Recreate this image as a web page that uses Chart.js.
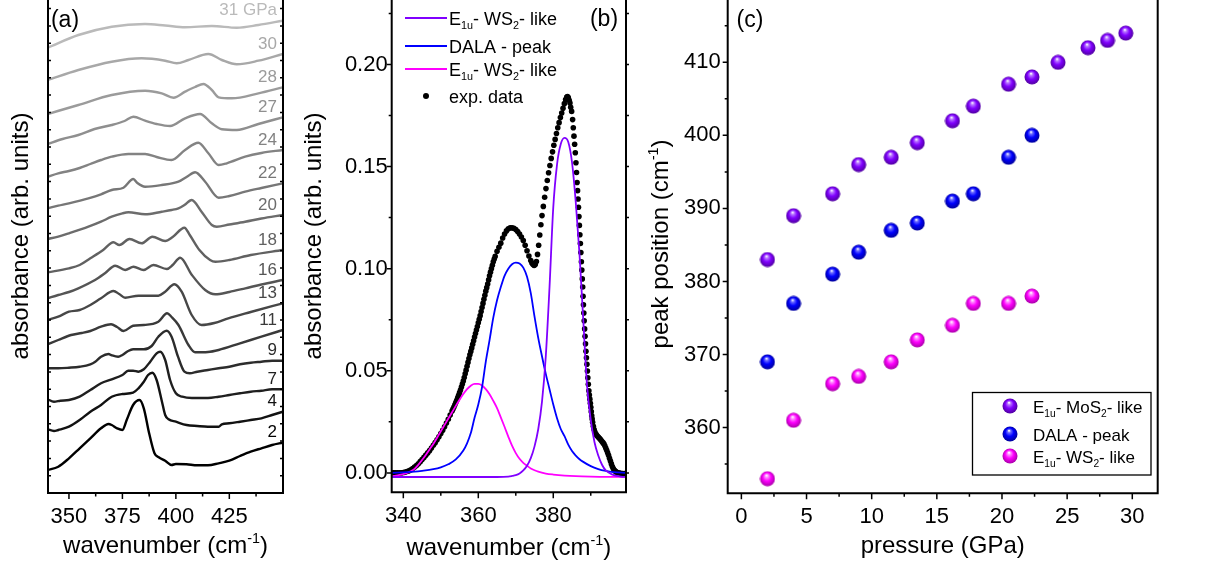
<!DOCTYPE html>
<html><head><meta charset="utf-8">
<script src="https://cdn.jsdelivr.net/npm/chart.js@4.4.1/dist/chart.umd.min.js"></script>
<style>
html,body{margin:0;padding:0;background:#fff;}
#wrap{position:relative;width:1210px;height:567px;overflow:hidden;background:#fff;}
#wrap canvas{position:absolute;left:0;top:0;}
</style></head><body>
<div id="wrap">
<canvas id="ca" width="1210" height="567"></canvas>
<canvas id="cb" width="1210" height="567"></canvas>
<canvas id="cc" width="1210" height="567"></canvas>
</div>
<script>
// ================= DATA =================
// Panel (a): stacked IR spectra, [wavenumber, absorbance (arb., offset)]
const labelsA = ['2','4','7','9','11','13','16','18','20','22','24','27','28','30','31 GPa'];
const spec2 = [[340,0.23],[345,0.263],[350,0.347],[355,0.447],[360,0.547],[365,0.647],[368.5,0.69],[370,0.68],[372.5,0.647],[375,0.63],[377,0.73],[380,0.88],[383,0.93],[385,0.847],[387.5,0.597],[390,0.397],[392,0.357],[395,0.323],[398,0.28],[400,0.29],[405,0.287],[410,0.277],[415,0.277],[420,0.297],[425,0.323],[430,0.37],[435,0.413],[440,0.447],[445,0.48],[450,0.503]];
const spec4 = [[340,0.637],[343,0.62],[345,0.63],[350,0.663],[355,0.73],[360,0.813],[365,0.88],[370,0.963],[375,0.99],[380,1.003],[382.5,1.047],[385,1.113],[387,1.18],[389,1.203],[391,1.13],[393.5,0.913],[395,0.78],[396.6,0.737],[400,0.713],[405,0.68],[410,0.67],[415,0.663],[420,0.663],[421.5,0.687],[425,0.697],[430,0.713],[435,0.73],[440,0.747],[445,0.78],[450,0.813]];
const spec7 = [[340,0.937],[343,0.913],[346,0.923],[350,0.93],[355,0.963],[360,1.03],[365,1.097],[370,1.137],[375,1.18],[377.7,1.223],[380,1.223],[382.5,1.213],[385,1.237],[388,1.313],[391,1.397],[392.7,1.413],[395,1.33],[397.3,1.13],[400,0.997],[403,0.963],[407.5,0.95],[415,0.95],[420,0.963],[425,0.98],[430,0.997],[435,1.013],[440,1.023],[445,1.037],[450,1.037]];
const spec9 = [[340,1.247],[345,1.247],[350,1.253],[355,1.263],[360,1.287],[362.3,1.313],[365,1.363],[368.5,1.39],[370,1.377],[373,1.363],[375,1.38],[377.7,1.42],[380,1.437],[385,1.437],[388.7,1.47],[391.8,1.563],[395.7,1.623],[398,1.563],[401,1.363],[404,1.213],[406.5,1.197],[410,1.213],[415,1.23],[420,1.247],[425,1.263],[430,1.287],[435,1.303],[440,1.313],[445,1.323],[450,1.323]];
const spec11 = [[340,1.487],[345,1.53],[351,1.58],[356,1.6],[360,1.62],[365,1.663],[369.7,1.687],[372.5,1.66],[375.5,1.62],[380,1.673],[385,1.68],[391.8,1.713],[395.9,1.797],[398,1.76],[401.2,1.68],[405.9,1.48],[409,1.407],[415,1.41],[420,1.43],[430,1.497],[440,1.563],[450,1.63]];
const spec13 = [[340,1.73],[345,1.763],[350,1.813],[355,1.83],[360,1.88],[365,1.947],[370.8,2.02],[373.5,1.99],[376.3,1.953],[382.5,1.973],[391.8,1.973],[395,2.013],[399.3,2.087],[402.7,2.013],[407.4,1.78],[412,1.68],[418,1.7],[424.5,1.747],[435,1.81],[450,1.897]];
const spec16 = [[340,1.947],[345,1.98],[350,2.01],[354.4,2.047],[362.2,2.13],[367,2.2],[371.6,2.273],[376.3,2.23],[380.2,2.263],[384.9,2.23],[389.5,2.28],[395.8,2.24],[398.5,2.28],[402,2.353],[407.5,2.18],[413.7,2.03],[418.4,1.987],[425,2.01],[432.5,2.047],[440,2.085],[450,2.13]];
const spec18 = [[340,2.207],[350,2.247],[355,2.28],[360,2.347],[366,2.43],[370.8,2.507],[373.6,2.48],[378.3,2.54],[384,2.497],[389,2.563],[395,2.52],[398.5,2.56],[404,2.653],[406.5,2.58],[411,2.43],[416,2.33],[418.5,2.313],[425,2.33],[435,2.38],[450,2.43]];
const spec20 = [[340,2.54],[345,2.563],[350,2.597],[359.1,2.663],[365,2.713],[370,2.763],[375,2.797],[377.8,2.807],[385.6,2.787],[393.4,2.813],[398,2.83],[401.2,2.847],[404,2.88],[407.4,2.93],[412,2.813],[416.8,2.68],[419.1,2.663],[425,2.685],[432.4,2.713],[440,2.745],[450,2.78]];
const spec22 = [[340,2.847],[345,2.873],[350,2.897],[359.1,2.947],[365,2.987],[370,3.03],[375.5,3.053],[380.1,3.14],[382,3.1],[385.6,3.063],[393.4,3.08],[401.2,3.113],[405,3.16],[409,3.207],[413.7,3.113],[420,2.953],[425,2.97],[432.4,3.013],[440,3.05],[450,3.097]];
const spec24 = [[340,3.163],[345,3.197],[350,3.22],[355,3.25],[360,3.29],[365,3.33],[370,3.363],[377.8,3.39],[385.6,3.39],[391,3.36],[398,3.33],[404.3,3.43],[410.5,3.503],[415.2,3.397],[420,3.28],[423.8,3.297],[432.4,3.363],[440,3.4],[450,3.43]];
const spec27 = [[340,3.49],[347,3.54],[354.4,3.58],[362,3.64],[370,3.68],[376,3.72],[380.1,3.763],[385.6,3.723],[391,3.69],[397.3,3.67],[404.3,3.747],[411.3,3.79],[416.8,3.697],[421.5,3.637],[428.5,3.63],[438.6,3.69],[450,3.757]];
const spec28 = [[340,3.79],[354.4,3.88],[370,3.98],[385.6,4.023],[393.4,3.997],[398.9,3.953],[404.3,4.013],[409,4.06],[412.9,4.09],[416.8,4.03],[420,3.957],[426.2,3.947],[438.6,3.997],[450,4.057]];
const spec30 = [[340,4.13],[354.4,4.23],[370,4.313],[384,4.347],[395,4.323],[400.4,4.297],[405.9,4.33],[415.2,4.39],[421.5,4.33],[428.5,4.287],[438.6,4.323],[450,4.39]];
const spec31 = [[340,4.453],[354.4,4.58],[370,4.663],[385.6,4.69],[395,4.675],[404.3,4.657],[416.8,4.67],[428.5,4.653],[438.6,4.68],[450,4.723]];
const specsA = [spec2,spec4,spec7,spec9,spec11,spec13,spec16,spec18,spec20,spec22,spec24,spec27,spec28,spec30,spec31];
const ticksA = [350,375,400,425];

// Panel (b): experimental data and fitted components, [wavenumber, absorbance]
const expData = [[337,0],[337.5,0],[338,0],[338.5,0],[339,0],[339.5,0],[340,0.0002],[340.5,0.0004],[341,0.0007],[341.5,0.001],[342,0.0015],[342.5,0.0021],[343,0.0029],[343.5,0.0036],[344,0.0045],[344.5,0.0055],[345,0.0065],[345.5,0.0076],[346,0.0087],[346.5,0.0098],[347,0.0109],[347.5,0.0122],[348,0.0135],[348.5,0.0148],[349,0.0162],[349.5,0.0177],[350,0.0193],[350.5,0.0209],[351,0.0226],[351.5,0.0244],[352,0.0263],[352.5,0.0283],
[353,0.0303],[353.25,0.0313],[353.5,0.0323],[353.75,0.0334],[354,0.0345],[354.25,0.0356],[354.5,0.0368],[354.75,0.038],[355,0.0393],[355.25,0.0406],[355.5,0.042],[355.75,0.0435],[356,0.045],[356.25,0.0467],[356.5,0.0485],[356.75,0.0503],[357,0.0522],[357.25,0.0541],[357.5,0.056],[357.75,0.0578],[358,0.0595],[358.25,0.0612],[358.5,0.063],[358.75,0.0647],[359,0.0665],[359.25,0.0682],[359.5,0.07],[359.75,0.0717],[360,0.0735],[360.25,0.0752],[360.5,0.077],[360.75,0.079],[361,0.081],[361.25,0.083],[361.5,0.085],[361.75,0.087],[362,0.089],[362.25,0.0907],[362.5,0.0925],[362.75,0.0945],[363,0.0965],[363.25,0.0983],[363.5,0.1],[363.75,0.1017],[364,0.1034],[364.25,0.1047],[364.5,0.106],
[365,0.1085],[365.5,0.1105],[366,0.1125],[366.5,0.115],[367,0.117],[367.5,0.1185],[368,0.1195],[368.5,0.12],[369,0.12],[369.5,0.1198],[370,0.1192],[370.5,0.1182],[371,0.117],[371.5,0.1155],[372,0.1138],[372.5,0.1115],[373,0.1088],[373.5,0.1062],
[374,0.104],[374.3,0.1028],[374.6,0.102],[374.9,0.1016],[375.2,0.102],[375.5,0.1035],[375.8,0.107],[376.1,0.1115],[376.4,0.1165],[376.7,0.1215],[377,0.126],[377.35,0.1305],[377.7,0.135],[378.05,0.1392],[378.4,0.1432],[378.75,0.147],[379.1,0.1505],[379.45,0.154],[379.8,0.1572],[380.15,0.1604],[380.5,0.1633],[380.85,0.1662],[381.2,0.169],[381.55,0.1715],[381.9,0.174],[382.25,0.1762],[382.6,0.1785],[382.95,0.1808],[383.3,0.1828],[383.6,0.184],[383.8,0.1843],
[384,0.1838],[384.25,0.1825],[384.45,0.1811],[384.65,0.179],[384.9,0.177],[385.16,0.173],[385.34,0.169],[385.52,0.1649],[385.7,0.1609],[385.88,0.1568],[386.05,0.1519],[386.2,0.1471],[386.35,0.1422],[386.48,0.1382],[386.6,0.1341],[386.72,0.1301],[386.85,0.1255],[386.97,0.1212],[387.1,0.1166],[387.23,0.1123],[387.36,0.1079],[387.5,0.1034],[387.62,0.0993],[387.74,0.095],[387.85,0.091],[387.95,0.0865],[388.05,0.0823],[388.15,0.0783],[388.25,0.0745],[388.37,0.0705],[388.48,0.0669],[388.6,0.0632],[388.72,0.0596],[388.85,0.0564],[388.98,0.0532],[389.1,0.0499],[389.22,0.0466],[389.35,0.0434],[389.5,0.0402],[389.63,0.0381],[389.76,0.0361],[389.9,0.0341],[390.02,0.0321],[390.14,0.03],[390.26,0.028],[390.38,0.0264],[390.5,0.0248],[390.7,0.0228],[390.9,0.0212],[391.1,0.02],[391.3,0.0192],[391.5,0.0186],[391.75,0.0181],[392,0.0176],[392.25,0.0171],[392.5,0.0166],[392.75,0.016],[393,0.0154],[393.25,0.0148],[393.5,0.0142],[393.75,0.0133],[394,0.0122],[394.25,0.0111],[394.5,0.0099],[394.75,0.0086],[395,0.0072],[395.25,0.0058],[395.5,0.0044],[395.75,0.0031],[396,0.0021],[396.25,0.0014],[396.5,0.0009],[396.75,0.0005],[397,0.0002],[397.5,0],[398,-0.0002],[398.5,-0.0003],[399,-0.0003]];
const fitMoS2 = [[337,-0.002],[345,-0.002],[355,-0.002],[365,-0.002],[368,-0.0018],[369,-0.0015],[370,-0.0011],[371,-0.0003],[372,0.0012],[373,0.0035],[374,0.0072],[375,0.013],[376,0.0215],[377,0.035],[378,0.057],[379,0.091],[380,0.13],[381,0.151],[382,0.161],[383,0.164],[384,0.162],[385,0.152],[386,0.1325],[387,0.107],[388,0.075],[389,0.043],[390,0.026],[391,0.015],[392,0.0085],[393,0.004],[394,0.0012],[395,0],[396,-0.001],[397,-0.0015],[398,-0.0018],[399.4,-0.002]];
const fitDALA = [[337,0],[340,0.0003],[343,0.0006],[345,0.001],[348,0.0018],[350,0.0027],[352,0.0042],[354,0.0066],[356,0.011],[357,0.0145],[358,0.0195],[359,0.027],[360,0.0335],[361,0.042],[362,0.0545],[363,0.065],[364,0.076],[365,0.0845],[366,0.091],[367,0.0965],[368,0.1],[369,0.1022],[370,0.103],[371,0.1025],[372,0.1005],[373,0.096],[374,0.088],[375,0.0765],[376,0.066],[377,0.057],[378,0.0485],[379,0.041],[380,0.0335],[381,0.0268],[382,0.0215],[383,0.018],[384,0.0138],[385,0.0107],[386,0.0085],[387,0.0067],[388,0.0054],[390,0.0033],[392,0.0019],[394,0.001],[396,0.0004],[399.4,0]];
const fitWS2 = [[337,-0.0017],[339,-0.001],[341,0],[342,0.0008],[343,0.002],[344,0.004],[345,0.0063],[346,0.0088],[347,0.0115],[348,0.0142],[349,0.0172],[350,0.0204],[351,0.0235],[352,0.0266],[353,0.0297],[354,0.0328],[355,0.0358],[356,0.0386],[357,0.041],[358,0.0427],[359,0.0436],[360,0.0436],[361,0.0428],[362,0.041],[363,0.0385],[364,0.0353],[365,0.0317],[366,0.0272],[367,0.0226],[368,0.0178],[369,0.0133],[370,0.0097],[371,0.0069],[372,0.0049],[373,0.0035],[374,0.0022],[375,0.0013],[376,0.0006],[378,-0.0003],[380,-0.0008],[383,-0.0013],[386,-0.0016],[390,-0.0018],[394,-0.0019],[399.4,-0.0019]];
const ticksBx = [340,360,380];
const ticksBy = [0,0.05,0.10,0.15,0.20];

// Panel (c): peak positions vs pressure
const pressMoS2 = [2,4,7,9,11.5,13.5,16.2,17.8,20.5,22.3,24.3,26.6,28.1,29.5];
const posMoS2   = [383,389,392,396,397,399,402,404,407,408,410,412,413,414];
const pressDALA = [2,4,7,9,11.5,13.5,16.2,17.8,20.5,22.3];
const posDALA   = [369,377,381,384,387,388,391,392,397,400];
const pressWS2  = [2,4,7,9,11.5,13.5,16.2,17.8,20.5,22.3];
const posWS2    = [353,361,366,367,369,372,374,377,377,378];
const ticksCx = [0,5,10,15,20,25,30];
const ticksCy = [360,370,380,390,400,410];

// ================= STYLE / LAYOUT =================
const FONT = "'Liberation Sans', Arial, Helvetica, sans-serif";
Chart.defaults.font.family = FONT;
Chart.defaults.color = '#000';
const W = 1210, H = 567, AX = 60, TICK = 22, TITLE = 24;
const greysA = ['#000000','#121212','#1f1f1f','#2c2c2c','#3a3a3a','#474747','#555555','#616161','#6c6c6c','#777777','#838383','#8f8f8f','#9b9b9b','#a8a8a8','#bababa'];
const PURPLE = '#8000ff', BLUE = '#0000ff', MAGENTA = '#ff00ff';

const pts = a => a.map(p => ({x: p[0], y: p[1]}));
const zip = (xs, ys) => xs.map((x, i) => ({x, y: ys[i]}));

function baseOptions(area, xo, yo) {
  return {
    responsive: false, animation: false, events: [],
    layout: {padding: {left: area.l - AX, right: W - area.r, top: area.t, bottom: H - area.b - AX}},
    plugins: {legend: {display: false}, tooltip: {enabled: false}},
    scales: {
      x: {type: 'linear', position: 'bottom', min: xo.min, max: xo.max,
        afterFit(s) { s.height = AX; s.paddingLeft = 0; s.paddingRight = 0; },
        afterBuildTicks(s) { s.ticks = xo.ticks.map(v => ({value: v})); },
        grid: {display: false, drawTicks: false}, border: {display: false},
        ticks: {display: true, autoSkip: false, maxRotation: 0, minRotation: 0, padding: xo.pad,
          font: {size: TICK}, color: '#000', callback: xo.fmt || (v => String(v))}},
      y: {type: 'linear', position: 'left', min: yo.min, max: yo.max,
        afterFit(s) { s.width = AX; s.paddingTop = 0; s.paddingBottom = 0; },
        afterBuildTicks(s) { s.ticks = (yo.ticks || []).map(v => ({value: v})); },
        grid: {display: false, drawTicks: false}, border: {display: false},
        ticks: {display: !!yo.ticks, autoSkip: false, padding: yo.pad,
          font: {size: TICK}, color: '#000', callback: yo.fmt || (v => String(v))}}
    }
  };
}

function drawFrame(ctx, a) {
  ctx.save(); ctx.strokeStyle = '#000'; ctx.lineWidth = 2;
  ctx.beginPath();
  ctx.moveTo(a.left, -2); ctx.lineTo(a.left, a.bottom); ctx.lineTo(a.right, a.bottom); ctx.lineTo(a.right, -2);
  ctx.stroke(); ctx.restore();
}
function yTickMarks(ctx, scale, x, values, len) {
  ctx.save(); ctx.strokeStyle = '#000'; ctx.lineWidth = 1.5; ctx.beginPath();
  values.forEach(v => { const y = scale.getPixelForValue(v); ctx.moveTo(x, y); ctx.lineTo(x + len, y); });
  ctx.stroke(); ctx.restore();
}
function xTickMarks(ctx, scale, y, values, len) {
  ctx.save(); ctx.strokeStyle = '#000'; ctx.lineWidth = 1.5; ctx.beginPath();
  values.forEach(v => { const x = scale.getPixelForValue(v); ctx.moveTo(x, y); ctx.lineTo(x, y + len); });
  ctx.stroke(); ctx.restore();
}
// parts: [text, kind] kind 0 normal, 1 superscript, -1 subscript
function drawRich(ctx, x, y, parts, size, align, rot, color) {
  ctx.save(); ctx.translate(x, y); if (rot) ctx.rotate(rot);
  ctx.fillStyle = color || '#000'; ctx.textBaseline = 'alphabetic'; ctx.textAlign = 'left';
  const small = size * 0.6;
  const widths = parts.map(p => { ctx.font = (p[1] ? small : size) + 'px ' + FONT; return ctx.measureText(p[0]).width; });
  const total = widths.reduce((s, w) => s + w, 0);
  let cx = align === 'center' ? -total / 2 : (align === 'right' ? -total : 0);
  parts.forEach((p, i) => {
    ctx.font = (p[1] ? small : size) + 'px ' + FONT;
    const dy = p[1] === 1 ? -size * 0.42 : (p[1] === -1 ? size * 0.25 : 0);
    ctx.fillText(p[0], cx, dy); cx += widths[i];
  });
  ctx.restore();
}
const WAVE_TITLE = [['wavenumber (cm', 0], ['-1', 1], [')', 0]];
const ABS_TITLE = [['absorbance (arb. units)', 0]];

function sphere(light, mid, dark) {
  const s = document.createElement('canvas'); s.width = 16; s.height = 16;
  const g = s.getContext('2d');
  const gr = g.createRadialGradient(7, 4.5, 0.3, 8, 8, 8);
  gr.addColorStop(0, '#ffffff'); gr.addColorStop(0.18, light); gr.addColorStop(0.5, mid); gr.addColorStop(1, dark);
  g.fillStyle = gr; g.beginPath(); g.arc(8, 8, 7.5, 0, Math.PI * 2); g.fill();
  return s;
}
const sphPurple = sphere('#b775ff', '#8000ff', '#4b0096');
const sphBlue = sphere('#6a6aff', '#0000ff', '#000090');
const sphMagenta = sphere('#ff8cff', '#ff00ff', '#a000a0');

// ================= PANEL (a) =================
const areaA = {l: 48, r: 283, t: 0, b: 493};
new Chart(document.getElementById('ca'), {
  type: 'line',
  data: {datasets: specsA.map((s, i) => ({data: pts(s), borderColor: greysA[i], borderWidth: 2.4,
    pointRadius: 0, cubicInterpolationMode: 'monotone', fill: false}))},
  options: baseOptions(areaA, {min: 340.2, max: 450.1, ticks: ticksA, pad: 11}, {min: 0, max: 4.93, ticks: null, pad: 0}),
  plugins: [{id: 'decoA', afterDraw(c) {
    const ctx = c.ctx, a = c.chartArea, xs = c.scales.x, ys = c.scales.y;
    drawFrame(ctx, a);
    const yt = []; for (let k = 1; k <= 28; k++) yt.push(k * 0.173);
    yTickMarks(ctx, ys, a.left, yt, 3);
    yTickMarks(ctx, ys, a.right, yt, -3);
    xTickMarks(ctx, xs, a.bottom, ticksA, 6);
    xTickMarks(ctx, xs, a.bottom, [362.5, 387.5, 412.5, 437.5], 3.5);
    // curve labels
    ctx.save(); ctx.font = '17px ' + FONT; ctx.textAlign = 'right'; ctx.textBaseline = 'middle';
    specsA.forEach((s, i) => {
      ctx.fillStyle = greysA[i];
      ctx.fillText(labelsA[i], a.right - 6, ys.getPixelForValue(s[s.length - 1][1] + 0.1));
    });
    ctx.restore();
    ctx.save(); ctx.font = '23px ' + FONT; ctx.fillStyle = '#000'; ctx.textAlign = 'center'; ctx.textBaseline = 'middle';
    ctx.fillText('(a)', 65, 21); ctx.restore();
    drawRich(ctx, (a.left + a.right) / 2, 553, WAVE_TITLE, TITLE, 'center', 0);
    drawRich(ctx, 28, 236, ABS_TITLE, TITLE, 'center', -Math.PI / 2);
  }}]
});

// ================= PANEL (b) =================
const areaB = {l: 391.7, r: 626, t: 0, b: 492.3};
new Chart(document.getElementById('cb'), {
  type: 'line',
  data: {datasets: [
    {data: pts(fitMoS2), borderColor: PURPLE, borderWidth: 1.8, pointRadius: 0, cubicInterpolationMode: 'monotone', order: 1},
    {data: pts(fitDALA), borderColor: BLUE, borderWidth: 1.8, pointRadius: 0, cubicInterpolationMode: 'monotone', order: 2},
    {data: pts(fitWS2), borderColor: MAGENTA, borderWidth: 1.8, pointRadius: 0, cubicInterpolationMode: 'monotone', order: 3},
    {data: pts(expData), showLine: false, pointRadius: 2.8, pointBackgroundColor: '#000', pointBorderWidth: 0, borderColor: '#000', order: 4}
  ]},
  options: baseOptions(areaB, {min: 336.9, max: 399.4, ticks: ticksBx, pad: 10},
    {min: -0.0095, max: 0.2296, ticks: ticksBy, pad: 4, fmt: v => v.toFixed(2)}),
  plugins: [{id: 'decoB', afterDraw(c) {
    const ctx = c.ctx, a = c.chartArea, xs = c.scales.x, ys = c.scales.y;
    drawFrame(ctx, a);
    yTickMarks(ctx, ys, a.left, ticksBy, -5);
    yTickMarks(ctx, ys, a.left, [0.025, 0.075, 0.125, 0.175, 0.225], -3);
    yTickMarks(ctx, ys, a.right, [0, 0.025, 0.05, 0.075, 0.1, 0.125, 0.15, 0.175, 0.2, 0.225], 3);
    xTickMarks(ctx, xs, a.bottom, ticksBx, 6);
    xTickMarks(ctx, xs, a.bottom, [350, 370, 390], 3.5);
    // legend
    const rows = [
      {c: PURPLE, parts: [['E', 0], ['1u', -1], ['- WS', 0], ['2', -1], ['- like', 0]], y: 18},
      {c: BLUE, parts: [['DALA - peak', 0]], y: 46},
      {c: MAGENTA, parts: [['E', 0], ['1u', -1], ['- WS', 0], ['2', -1], ['- like', 0]], y: 69},
      {c: null, parts: [['exp. data', 0]], y: 96}
    ];
    ctx.save();
    rows.forEach(r => {
      if (r.c) { ctx.strokeStyle = r.c; ctx.lineWidth = 1.8; ctx.beginPath(); ctx.moveTo(405, r.y); ctx.lineTo(447, r.y); ctx.stroke(); }
      else { ctx.fillStyle = '#000'; ctx.beginPath(); ctx.arc(426, r.y, 3, 0, Math.PI * 2); ctx.fill(); }
      drawRich(ctx, 449, r.y + 6.5, r.parts, 18, 'left', 0);
    });
    ctx.restore();
    ctx.save(); ctx.font = '23px ' + FONT; ctx.fillStyle = '#000'; ctx.textAlign = 'center'; ctx.textBaseline = 'middle';
    ctx.fillText('(b)', 604, 20); ctx.restore();
    drawRich(ctx, (a.left + a.right) / 2, 555, WAVE_TITLE, TITLE, 'center', 0);
    drawRich(ctx, 321, 236, ABS_TITLE, TITLE, 'center', -Math.PI / 2);
  }}]
});

// ================= PANEL (c) =================
const areaC = {l: 727.7, r: 1157.7, t: 0, b: 493.3};
new Chart(document.getElementById('cc'), {
  type: 'scatter',
  data: {datasets: [
    {data: zip(pressMoS2, posMoS2), pointStyle: sphPurple, pointRadius: 8},
    {data: zip(pressDALA, posDALA), pointStyle: sphBlue, pointRadius: 8},
    {data: zip(pressWS2, posWS2), pointStyle: sphMagenta, pointRadius: 8}
  ]},
  options: baseOptions(areaC, {min: -1.05, max: 31.95, ticks: ticksCx, pad: 10},
    {min: 351.0, max: 417.3, ticks: ticksCy, pad: 7}),
  plugins: [{id: 'decoC', afterDraw(c) {
    const ctx = c.ctx, a = c.chartArea, xs = c.scales.x, ys = c.scales.y;
    drawFrame(ctx, a);
    yTickMarks(ctx, ys, a.left, ticksCy, -5);
    yTickMarks(ctx, ys, a.left, [355, 365, 375, 385, 395, 405, 415], -3);
    xTickMarks(ctx, xs, a.bottom, ticksCx, 6);
    xTickMarks(ctx, xs, a.bottom, [2.5, 7.5, 12.5, 17.5, 22.5, 27.5], 3.5);
    // legend box
    ctx.save();
    ctx.strokeStyle = '#000'; ctx.lineWidth = 1.3; ctx.strokeRect(972.5, 392.5, 178.5, 82.5);
    const rows = [
      {s: sphPurple, parts: [['E', 0], ['1u', -1], ['- MoS', 0], ['2', -1], ['- like', 0]], y: 406},
      {s: sphBlue, parts: [['DALA - peak', 0]], y: 434},
      {s: sphMagenta, parts: [['E', 0], ['1u', -1], ['- WS', 0], ['2', -1], ['- like', 0]], y: 456}
    ];
    rows.forEach(r => {
      ctx.drawImage(r.s, 1010 - 8, r.y - 8);
      drawRich(ctx, 1033, r.y + 6.5, r.parts, 17, 'left', 0);
    });
    ctx.restore();
    ctx.save(); ctx.font = '23px ' + FONT; ctx.fillStyle = '#000'; ctx.textAlign = 'center'; ctx.textBaseline = 'middle';
    ctx.fillText('(c)', 750, 21); ctx.restore();
    drawRich(ctx, (a.left + a.right) / 2, 553, [['pressure (GPa)', 0]], TITLE, 'center', 0);
    drawRich(ctx, 668, 244, [['peak position (cm', 0], ['-1', 1], [')', 0]], TITLE, 'center', -Math.PI / 2);
  }}]
});
</script>
</body></html>
